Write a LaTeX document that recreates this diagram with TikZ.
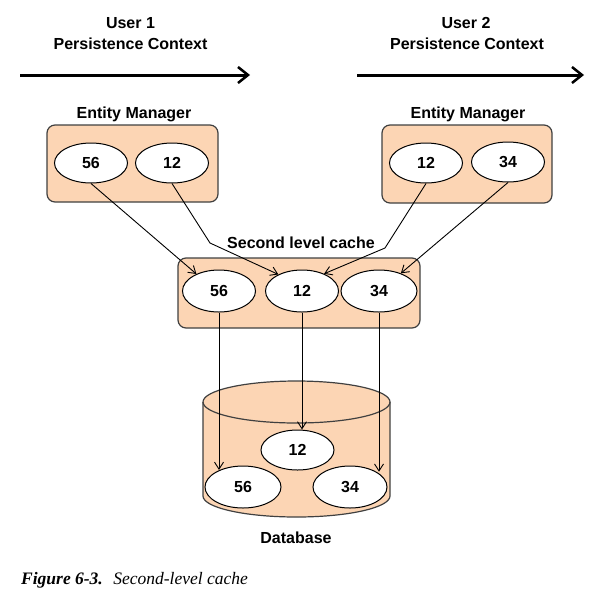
\documentclass[tikz,border=0pt]{standalone}
\usepackage{fontspec}
\setmainfont{Liberation Serif}
\newfontfamily\diagfont{Liberation Sans}
\usetikzlibrary{shapes.geometric,arrows.meta}
\definecolor{peach}{RGB}{252,213,180}
\tikzset{
    rounded-box/.style = {draw=black!75, fill=peach, line width=1.2pt, rectangle, rounded corners=8pt, inner sep=0pt},
    key-oval/.style = {draw=black, fill=white, line width=1pt, ellipse, inner sep=0pt, minimum width=73pt, minimum height=40pt, font=\diagfont\bfseries\fontsize{16}{19}\selectfont},
    title-text/.style = {font=\diagfont\bfseries\fontsize{16}{19}\selectfont, anchor=base, inner sep=0pt},
    context-arrow/.style = {line width=3pt, -{Straight Barb[length=10pt,width=16pt,line width=2.5pt]}},
    link-arrow/.style = {line width=0.9pt, -{Straight Barb[length=7pt,width=9pt]}},
}

\begin{document}
\begin{tikzpicture}[x=1pt,y=1pt]
\useasboundingbox (0,0) rectangle (604,-600);

% persistence contexts
\node[title-text] (user1) at (130.5,-28) {User 1};
\node[title-text] (ctx1) at (130.5,-49) {Persistence Context};
\node[title-text] (user2) at (466,-28) {User 2};
\node[title-text] (ctx2) at (467,-49) {Persistence Context};
\coordinate (flow1-start) at (20,-75);
\coordinate (flow1-end) at (250,-75);
\coordinate (flow2-start) at (357,-75);
\coordinate (flow2-end) at (584,-75);
\draw[context-arrow] (flow1-start) -- (flow1-end);
\draw[context-arrow] (flow2-start) -- (flow2-end);

% entity managers
\node[title-text] (em1-title) at (134,-118) {Entity Manager};
\node[rounded-box, minimum width=171pt, minimum height=77pt] (em1) at (132.5,-163.5) {};
\node[key-oval] (em1-56) at (91,-163) {56};
\node[key-oval] (em1-12) at (172,-163) {12};

\node[title-text] (em2-title) at (468,-118) {Entity Manager};
\node[rounded-box, minimum width=170pt, minimum height=78pt] (em2) at (467,-164) {};
\node[key-oval] (em2-12) at (426,-163) {12};
\node[key-oval] (em2-34) at (508,-162) {34};

% second level cache
\node[title-text] (cache-title) at (301,-248) {Second level cache};
\node[rounded-box, minimum width=242pt, minimum height=70pt] (cache) at (299,-293) {};
\node[key-oval, minimum height=42pt] (c56) at (219,-291) {56};
\node[key-oval, minimum height=42pt] (c12) at (302,-291) {12};
\node[key-oval, minimum width=76pt, minimum height=42pt] (c34) at (379,-291) {34};

% database
\fill[peach] (203,-402) -- (203,-496) arc[start angle=180, end angle=360, x radius=93.5, y radius=21]
    -- (390,-402) arc[start angle=0, end angle=180, x radius=93.5, y radius=21] -- cycle;
\draw[line width=1.2pt, black!75] (203,-402) -- (203,-496) arc[start angle=180, end angle=360, x radius=93.5, y radius=21] -- (390,-402);
\draw[line width=1.2pt, black!75] (296.5,-402) ellipse[x radius=93.5, y radius=21];
\node[key-oval] (d12) at (297.5,-450) {12};
\node[key-oval, minimum width=76pt, minimum height=42pt] (d56) at (243,-487) {56};
\node[key-oval, minimum width=74pt, minimum height=42pt] (d34) at (350,-487) {34};
\node[title-text] (db-title) at (296,-543) {Database};

% links
\coordinate (bend1) at (210,-243);
\coordinate (bend2) at (385,-248);
\draw[link-arrow] (em1-56.south) -- (c56.143);
\draw[link-arrow] (em1-12.south) -- (bend1) -- (c12.145);
\draw[link-arrow] (em2-12.south) -- (bend2) -- (c12.38);
\draw[link-arrow] (em2-34.south) -- (c34.39);
\draw[link-arrow] (c56.south) -- (c56.south |- d56.144);
\draw[link-arrow] (c12.south) -- (c12.south |- d12.north);
\draw[link-arrow] (c34.south) -- (c34.south |- d34.30);

% caption
\node[anchor=base west, inner sep=0pt, font=\fontsize{17.5}{21}\selectfont] (caption) at (21,-584)
    {\textbf{\textit{Figure 6-3.}}\hspace{0.6em}\textit{Second-level cache}};
\end{tikzpicture}
\end{document}
